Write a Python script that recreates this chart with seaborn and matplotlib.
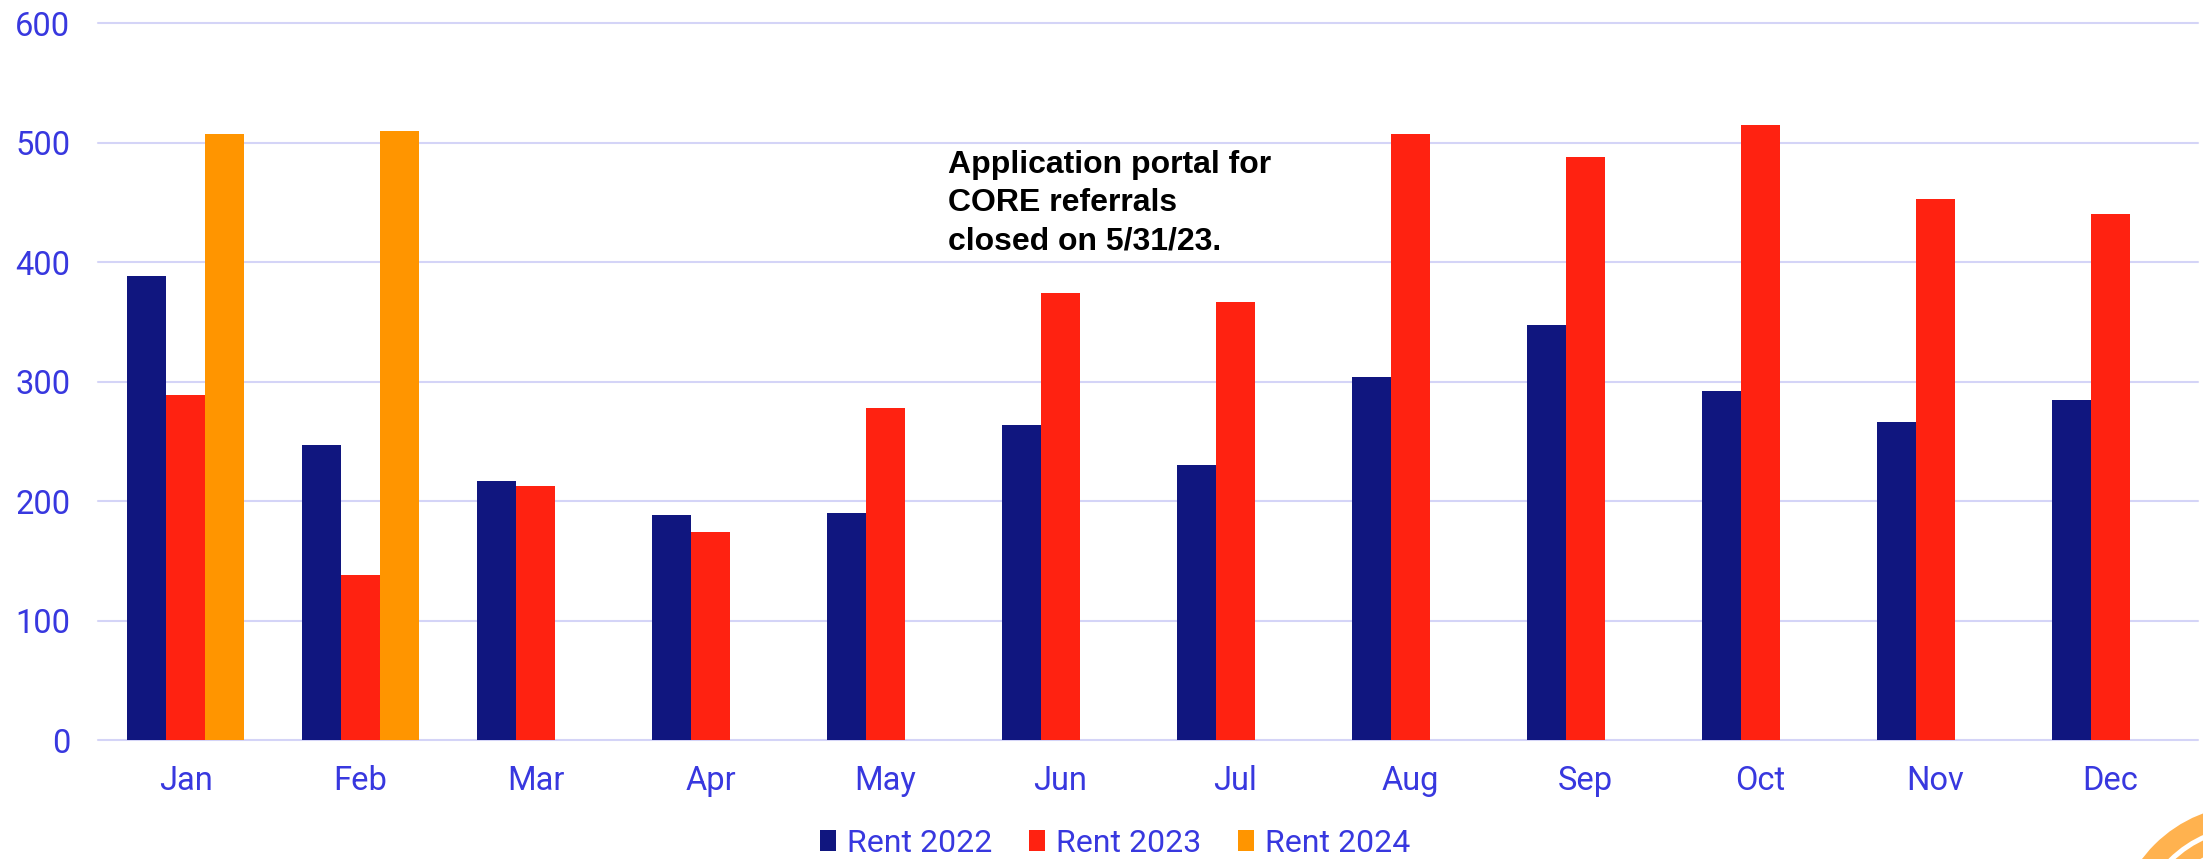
import matplotlib
matplotlib.use('Agg')
import matplotlib.pyplot as plt
from matplotlib.patches import Wedge
import pandas as pd
import seaborn as sns

# Data
months = ['Jan', 'Feb', 'Mar', 'Apr', 'May', 'Jun',
          'Jul', 'Aug', 'Sep', 'Oct', 'Nov', 'Dec']
rent_2022 = [388, 247, 217, 188, 190, 264, 230, 304, 347, 292, 266, 285]
rent_2023 = [289, 138, 213, 174, 278, 374, 367, 507, 488, 515, 453, 440]
rent_2024 = [507, 510]  # only Jan and Feb reported
series = ['Rent 2022', 'Rent 2023', 'Rent 2024']
colors = ['#10167F', '#FF2211', '#FF9500']

note = 'Application portal for\nCORE referrals\nclosed on 5/31/23.'

# Long format for seaborn
df = pd.concat([
    pd.DataFrame({'month': months, 'value': rent_2022, 'series': series[0]}),
    pd.DataFrame({'month': months, 'value': rent_2023, 'series': series[1]}),
    pd.DataFrame({'month': months[:len(rent_2024)], 'value': rent_2024, 'series': series[2]}),
], ignore_index=True)

sns.set_style('white')
plt.rcParams['font.family'] = ['Roboto', 'DejaVu Sans']

text_blue = '#3838DF'
grid_col = '#D4D4F7'

fig, ax = plt.subplots(figsize=(22.03, 8.59), dpi=100)
fig.subplots_adjust(left=0.0445, right=0.9977, bottom=0.1385, top=0.973)

sns.barplot(data=df, x='month', y='value', hue='series', order=months,
            hue_order=series, palette=colors, width=0.67, errorbar=None,
            linewidth=0, saturation=1, ax=ax, zorder=3)

ax.set_xlim(-0.5, len(months) - 0.5)
ax.set_ylim(0, 600)
ax.set_yticks(range(0, 601, 100))
ax.set_xlabel('')
ax.set_ylabel('')
for s in ax.spines.values():
    s.set_visible(False)
ax.yaxis.grid(True, color=grid_col, linewidth=1.5, zorder=0)
ax.set_axisbelow(True)
for gl in ax.get_ygridlines():
    gl.set_clip_on(False)
ax.tick_params(axis='both', length=0, labelsize=23.5, labelcolor=text_blue)
ax.tick_params(axis='x', pad=18)
ax.tick_params(axis='y', pad=20)

# annotation
ax.text(4.36, 494, note, fontsize=23, fontweight='bold', color='black',
        family=['Liberation Sans', 'DejaVu Sans'], va='top', ha='left',
        linespacing=1.36)

# legend below the chart
sns.move_legend(ax, 'center', bbox_to_anchor=(1115 / 2203, 1 - 843 / 859),
                bbox_transform=fig.transFigure, ncol=3, title=None,
                frameon=False, fontsize=23, handlelength=0.5,
                handleheight=0.63, handletextpad=0.34, columnspacing=1.16,
                labelcolor=text_blue)

# orange corner decoration
for r, w in [(1.35, 0.2), (1.10, 0.15), (0.90, 0.12)]:
    fig.add_artist(Wedge((22.5, -0.81), r, 90, 180, width=w,
                         facecolor='#FFB24F', edgecolor='none',
                         transform=fig.dpi_scale_trans))

fig.savefig('out.png', dpi=100)
